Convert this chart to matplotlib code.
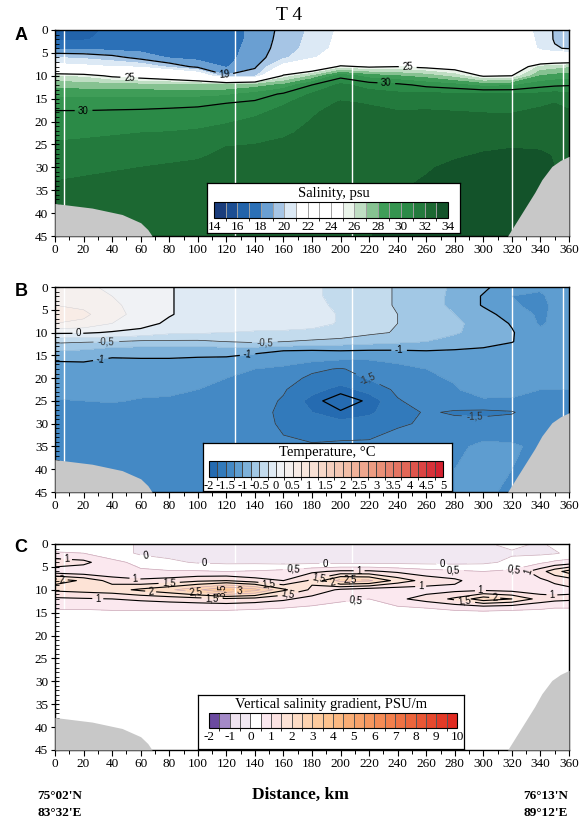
import numpy as np
import matplotlib
matplotlib.use("Agg")
import matplotlib.pyplot as plt
from matplotlib.colors import ListedColormap, BoundaryNorm, LinearSegmentedColormap
from matplotlib.ticker import MultipleLocator
import matplotlib.colorbar as mcolorbar

plt.rcParams['font.family'] = ['Liberation Serif', 'DejaVu Serif']
plt.rcParams['contour.negative_linestyle'] = 'solid'

# ---------------- data ----------------
distance_km = [0, 20, 40, 60, 80, 100, 120, 140, 160, 180, 200, 220, 240, 260, 280, 300, 320, 340, 350, 360]
depth_m = [0, 2, 4, 6, 8, 10, 12, 14, 16, 18, 20, 22.5, 25, 27.5, 30, 35, 40, 45]
station_km = [6, 126, 208, 320, 356]

bathy_left_km = [0, 26, 47, 60, 65, 68]
bathy_left_m = [37.9, 38.9, 40.3, 42.1, 43.6, 45]
bathy_right_km = [317, 323, 330, 336, 341, 348, 354, 360]
bathy_right_m = [45, 42, 38.5, 35.5, 32.7, 29.8, 28.5, 27.6]

# salinity (psu), one list per distance column, values down the depth rows
salinity_by_column = [
    [16.7, 16.9, 17.8, 20.0, 21.5, 26.0, 27.6, 28.6, 29.6, 30.1, 30.4, 30.75, 31.1, 31.4, 31.7, 32.2, 32.5, 32.7],
    [16.7, 16.9, 17.8, 19.8, 21.3, 25.7, 27.5, 28.6, 29.6, 30.1, 30.4, 30.8, 31.2, 31.5, 31.8, 32.3, 32.6, 32.8],
    [17.2, 17.3, 17.6, 19.4, 21.0, 24.7, 27.4, 28.6, 29.6, 30.15, 30.5, 30.9, 31.3, 31.6, 31.9, 32.4, 32.7, 32.8],
    [17.3, 17.4, 17.6, 18.6, 20.8, 24.2, 27.3, 28.6, 29.6, 30.2, 30.55, 31.0, 31.4, 31.7, 32.0, 32.5, 32.7, 32.8],
    [17.4, 17.5, 17.6, 17.9, 19.7, 23.5, 27.2, 28.6, 29.7, 30.25, 30.6, 31.05, 31.5, 31.8, 32.1, 32.6, 32.8, 32.9],
    [17.4, 17.5, 17.6, 17.7, 18.7, 22.5, 27.0, 28.6, 29.8, 30.3, 30.7, 31.15, 31.6, 31.9, 32.2, 32.6, 32.8, 32.9],
    [17.5, 17.5, 17.6, 17.7, 17.9, 19.1, 27.0, 28.8, 30.0, 30.5, 30.9, 31.4, 31.95, 32.2, 32.4, 32.7, 32.8, 32.9],
    [18.3, 18.3, 18.4, 18.5, 18.85, 19.6, 27.5, 29.3, 30.3, 30.8, 31.2, 31.6, 32.0, 32.3, 32.5, 32.7, 32.8, 32.9],
    [19.3, 19.4, 19.5, 19.8, 21.5, 25.3, 28.2, 30.2, 30.9, 31.3, 31.6, 31.85, 32.2, 32.4, 32.6, 32.8, 32.9, 32.9],
    [20.2, 20.3, 20.4, 20.8, 23.0, 27.0, 30.0, 31.1, 31.6, 31.9, 32.05, 32.25, 32.4, 32.55, 32.7, 32.85, 32.95, 32.97],
    [21.2, 21.3, 21.4, 22.0, 25.3, 29.6, 31.2, 31.7, 32.1, 32.3, 32.5, 32.6, 32.7, 32.8, 32.85, 32.92, 32.95, 32.97],
    [22.0, 22.2, 22.4, 23.0, 24.8, 28.5, 30.6, 31.4, 31.95, 32.2, 32.4, 32.55, 32.65, 32.75, 32.85, 32.95, 32.97, 32.98],
    [22.5, 22.6, 22.8, 23.4, 25.0, 28.0, 30.3, 31.2, 31.8, 32.05, 32.3, 32.45, 32.6, 32.75, 32.85, 32.97, 33.05, 33.15],
    [22.5, 22.6, 22.8, 23.3, 24.6, 27.5, 29.7, 31.2, 31.75, 32.1, 32.4, 32.55, 32.7, 32.85, 32.95, 33.1, 33.2, 33.3],
    [22.5, 22.6, 22.8, 23.2, 24.2, 26.5, 29.3, 31.2, 31.65, 32.05, 32.4, 32.6, 32.8, 32.95, 33.1, 33.25, 33.3, 33.3],
    [22.4, 22.5, 22.6, 23.0, 23.6, 24.8, 28.6, 31.2, 31.6, 31.98, 32.3, 32.6, 32.9, 33.05, 33.2, 33.3, 33.35, 33.35],
    [22.0, 22.1, 22.3, 22.7, 23.4, 25.0, 28.8, 31.1, 31.6, 31.97, 32.3, 32.65, 32.95, 33.1, 33.2, 33.3, 33.3, 33.3],
    [20.6, 20.7, 20.8, 22.0, 26.2, 28.0, 29.6, 31.2, 31.85, 32.2, 32.5, 32.75, 32.95, 33.05, 33.1, 33.1, 33.1, 33.1],
    [19.9, 19.9, 20.1, 22.5, 26.5, 28.3, 29.8, 31.4, 32.0, 32.25, 32.45, 32.7, 32.9, 32.98, 33.0, 33.0, 33.0, 33.0],
    [19.7, 19.7, 19.9, 22.5, 26.8, 28.5, 29.9, 31.2, 31.8, 32.1, 32.3, 32.55, 32.8, 32.95, 33.0, 33.0, 33.0, 33.0],
]

# temperature (deg C), one list per distance column
temperature_by_column = [
    [0.35, 0.40, 0.50, 0.60, 0.50, 0.05, -0.45, -0.75, -0.98, -1.10, -1.15, -1.20, -1.26, -1.30, -1.33, -1.35, -1.35, -1.35],
    [0.30, 0.35, 0.45, 0.55, 0.45, 0.04, -0.48, -0.78, -0.97, -1.10, -1.15, -1.20, -1.25, -1.30, -1.33, -1.36, -1.37, -1.37],
    [0.20, 0.25, 0.30, 0.35, 0.25, -0.03, -0.50, -0.90, -1.03, -1.10, -1.15, -1.20, -1.24, -1.30, -1.35, -1.38, -1.40, -1.40],
    [0.10, 0.12, 0.15, 0.15, 0.10, -0.08, -0.55, -0.90, -1.02, -1.12, -1.17, -1.22, -1.26, -1.30, -1.35, -1.40, -1.42, -1.42],
    [0.02, 0.02, 0.02, 0.02, -0.05, -0.20, -0.55, -0.90, -1.02, -1.12, -1.17, -1.22, -1.27, -1.32, -1.37, -1.42, -1.44, -1.44],
    [-0.10, -0.10, -0.10, -0.10, -0.12, -0.22, -0.55, -0.95, -1.02, -1.15, -1.20, -1.25, -1.30, -1.35, -1.40, -1.44, -1.45, -1.45],
    [-0.12, -0.12, -0.12, -0.12, -0.15, -0.25, -0.50, -0.90, -1.05, -1.20, -1.25, -1.30, -1.35, -1.40, -1.43, -1.45, -1.46, -1.46],
    [-0.15, -0.15, -0.14, -0.14, -0.16, -0.27, -0.45, -0.95, -1.10, -1.25, -1.32, -1.40, -1.42, -1.45, -1.45, -1.46, -1.46, -1.46],
    [-0.20, -0.20, -0.19, -0.18, -0.19, -0.27, -0.50, -1.00, -1.15, -1.30, -1.40, -1.48, -1.52, -1.53, -1.52, -1.48, -1.46, -1.46],
    [-0.22, -0.22, -0.21, -0.20, -0.21, -0.28, -0.55, -1.02, -1.20, -1.45, -1.55, -1.65, -1.85, -1.75, -1.60, -1.48, -1.46, -1.46],
    [-0.30, -0.30, -0.28, -0.26, -0.26, -0.32, -0.60, -1.00, -1.25, -1.52, -1.60, -1.85, -2.25, -1.95, -1.65, -1.45, -1.46, -1.46],
    [-0.42, -0.42, -0.42, -0.40, -0.40, -0.45, -0.65, -1.02, -1.25, -1.40, -1.48, -1.65, -1.92, -1.80, -1.62, -1.45, -1.45, -1.45],
    [-0.52, -0.52, -0.52, -0.50, -0.50, -0.52, -0.70, -1.02, -1.20, -1.32, -1.40, -1.45, -1.52, -1.58, -1.52, -1.42, -1.42, -1.42],
    [-0.62, -0.62, -0.62, -0.60, -0.58, -0.60, -0.75, -1.00, -1.15, -1.25, -1.30, -1.35, -1.40, -1.48, -1.48, -1.38, -1.35, -1.35],
    [-0.80, -0.82, -0.82, -0.75, -0.70, -0.72, -0.85, -1.02, -1.15, -1.20, -1.22, -1.28, -1.40, -1.52, -1.45, -1.30, -1.25, -1.25],
    [-0.95, -1.02, -1.02, -0.92, -0.85, -0.85, -0.90, -1.05, -1.12, -1.15, -1.18, -1.10, -1.30, -1.55, -1.42, -1.20, -1.15, -1.20],
    [-1.15, -1.25, -1.22, -1.10, -1.02, -0.98, -0.99, -1.10, -1.15, -1.18, -1.20, -1.12, -1.30, -1.52, -1.40, -1.22, -1.25, -1.30],
    [-1.20, -1.30, -1.32, -1.30, -1.28, -1.20, -1.15, -1.15, -1.18, -1.20, -1.22, -1.25, -1.30, -1.35, -1.35, -1.30, -1.30, -1.30],
    [-1.10, -1.15, -1.20, -1.20, -1.20, -1.15, -1.12, -1.12, -1.15, -1.20, -1.22, -1.25, -1.28, -1.30, -1.30, -1.30, -1.30, -1.30],
    [-1.05, -1.10, -1.12, -1.15, -1.15, -1.12, -1.10, -1.10, -1.15, -1.20, -1.22, -1.25, -1.28, -1.30, -1.30, -1.30, -1.30, -1.30],
]

# vertical salinity gradient (PSU/m), one list per depth row, values across distance
gradient_by_depth = [
    [0.2, 0.2, 0.15, -0.05, -0.1, -0.1, -0.1, -0.05, -0.1, -0.1, -0.1, -0.1, -0.1, -0.1, -0.1, -0.05, 0.1, -0.05, 0.1, 0.2],
    [0.55, 0.5, 0.3, -0.1, -0.15, -0.15, -0.15, -0.1, -0.15, -0.15, -0.15, -0.15, -0.15, -0.15, -0.15, -0.1, -0.05, -0.1, -0.05, 0.1],
    [1.3, 1.15, 0.6, 0.4, 0.1, -0.05, -0.1, -0.1, -0.15, -0.15, -0.15, -0.15, -0.15, -0.15, -0.15, -0.1, 0.1, 0.4, 0.6, 0.7],
    [0.7, 0.6, 0.55, 0.55, 0.55, 0.55, 0.5, 0.55, 0.65, 0.9, 1.1, 1.1, 0.9, 0.7, 0.6, 0.5, 0.6, 1.3, 1.8, 2.2],
    [2.3, 1.9, 1.3, 1.1, 1.2, 1.4, 1.5, 1.2, 1.0, 1.6, 2.7, 2.6, 1.8, 1.3, 1.1, 0.7, 0.6, 0.9, 1.1, 1.2],
    [1.6, 1.7, 1.8, 2.1, 2.4, 2.9, 3.6, 3.2, 2.1, 1.4, 0.9, 0.7, 0.7, 0.8, 0.85, 0.9, 0.8, 0.7, 0.8, 0.9],
    [0.9, 0.95, 1.0, 1.1, 1.2, 1.3, 1.4, 1.3, 1.1, 0.8, 0.6, 0.5, 0.9, 1.2, 1.6, 2.3, 2.0, 1.3, 1.15, 1.1],
    [0.55, 0.55, 0.6, 0.6, 0.6, 0.6, 0.6, 0.55, 0.5, 0.4, 0.3, 0.3, 0.4, 0.5, 0.6, 0.65, 0.6, 0.55, 0.5, 0.5],
    [0.2] * 20, [0.2] * 20, [0.2] * 20, [0.2] * 20, [0.2] * 20,
    [0.2] * 20, [0.2] * 20, [0.2] * 20, [0.2] * 20, [0.2] * 20,
]

sal_levels = list(range(14, 35))
sal_colors = ['#1a3d7c', '#1c4e93', '#2263aa', '#2b70b7', '#6a9fd2', '#a6c5e5', '#dce9f5',
              '#ffffff', '#ffffff', '#ffffff', '#ffffff', '#eaf4ea', '#bfdec3', '#86c291',
              '#3f9d58', '#34944f', '#2b8a47', '#237a3d', '#1c6832', '#13532a']
sal_ticks = [14, 16, 18, 20, 22, 24, 26, 28, 30, 32, 34]

temp_levels = [-2 + 0.25 * i for i in range(29)]
temp_anchor_values = [-2.0, -1.5, -1.0, -0.5, 0.0, 0.5, 1.0, 2.0, 3.0, 4.0, 5.0]
temp_anchor_colors = ['#1f65ac', '#3a82c1', '#6aa6d5', '#b5d3ea', '#eef3f8', '#f8efea',
                      '#f8e4da', '#f3c3ad', '#eb977d', '#e16052', '#d2192b']
temp_ticks = [-2, -1.5, -1, -0.5, 0, 0.5, 1, 1.5, 2, 2.5, 3, 3.5, 4, 4.5, 5]

grad_levels = [-2 + 0.5 * i for i in range(25)]
grad_colors = ['#6b4aa0', '#a48ac8', '#efe3f0', '#f1e8f2', '#ffffff', '#fbe8ef', '#fbe2e2',
               '#fde3d6', '#fddcc5', '#fdd3b0', '#fdcb9e', '#fdc38f', '#fbb982', '#f9ad75',
               '#f8a26a', '#f6975f', '#f48b55', '#f27f4c', '#ef7244', '#ec653c', '#e95735',
               '#e6492e', '#e33a27', '#e02b21']
grad_ticks = [-2, -1, 0, 1, 2, 3, 4, 5, 6, 7, 8, 9, 10]

# ---------------- figure ----------------
W, H = 579, 821
fig = plt.figure(figsize=(W / 100, H / 100), dpi=100)


def fax(l, t, r, b):
    return fig.add_axes([l / W, 1 - b / H, (r - l) / W, (b - t) / H])


X, Y = np.meshgrid(np.array(distance_km, float), np.array(depth_m, float))
S = np.array(salinity_by_column).T
T = np.array(temperature_by_column).T
G = np.array(gradient_by_depth)


def comma(v):
    return f"{v:g}".replace('.', ',')


def style_axes(ax):
    ax.set_xlim(0, 360)
    ax.set_ylim(45, 0)
    ax.set_xticks(range(0, 361, 20))
    ax.set_yticks(range(0, 46, 5))
    ax.xaxis.set_minor_locator(MultipleLocator(10))
    ax.yaxis.set_minor_locator(MultipleLocator(1))
    ax.tick_params(axis='x', which='major', direction='out', length=4, width=0.8, labelsize=9.5, pad=2)
    ax.tick_params(axis='x', which='minor', direction='out', length=3, width=0.7)
    ax.tick_params(axis='y', which='major', direction='inout', length=6, width=0.8, labelsize=9.5, pad=2)
    ax.tick_params(axis='y', which='minor', direction='in', length=3, width=0.6)
    for s in ax.spines.values():
        s.set_linewidth(1.0)
    for x in station_km:
        ax.plot([x, x], [0, 45], color='white', lw=1.0, zorder=1.5)
    ax.fill_between(bathy_left_km, bathy_left_m, 45, color='#c8c8c8', lw=0, zorder=4)
    ax.fill_between(bathy_right_km, bathy_right_m, 45, color='#c8c8c8', lw=0, zorder=4)


def set_label_font(labels, size=7):
    for t in labels:
        t.set_fontfamily(['Liberation Sans', 'DejaVu Sans'])
        t.set_fontsize(size)


def legend_box(l, t, r, b, title, title_y, cl, ct, cr, cb_, levels, colors, ticks, edgecolor, tsize):
    bax = fax(l, t, r, b)
    bax.set_xticks([])
    bax.set_yticks([])
    bax.set_facecolor('white')
    for s in bax.spines.values():
        s.set_linewidth(0.9)
    fig.text((l + r) / 2 / W, 1 - title_y / H, title, ha='center', va='center', fontsize=10.5)
    cax = fax(cl, ct, cr, cb_)
    cmap = ListedColormap(colors)
    norm = BoundaryNorm(levels, len(colors))
    cb = mcolorbar.ColorbarBase(cax, cmap=cmap, norm=norm, boundaries=levels,
                                orientation='horizontal', ticks=ticks, drawedges=True)
    cb.dividers.set_color(edgecolor)
    cb.dividers.set_linewidth(0.7)
    cb.outline.set_linewidth(0.8)
    cax.set_xticklabels([f"{v:g}" for v in ticks])
    cax.tick_params(length=0, labelsize=tsize, pad=2)
    return cb


# ---------------- Panel A: salinity ----------------
axA = fax(55, 30, 569, 236)
axA.contourf(X, Y, np.clip(S, 14.001, 33.999), levels=sal_levels, colors=sal_colors, zorder=1)
csA = axA.contour(X, Y, S, levels=[19, 25, 30], colors='black', linewidths=0.9, zorder=2)
labA = axA.clabel(csA, manual=[(119, 9.3), (52, 10.7), (247, 8.4), (20, 17.3), (232, 12)],
                  inline=True, inline_spacing=2, fmt=comma)
set_label_font(labA)
S_right = np.ma.masked_where(X < 340, S)
axA.contour(X, Y, S_right, levels=[20], colors='black', linewidths=0.9, zorder=2)
csA2 = axA.contour(X, Y, S, levels=[18, 20, 31, 32], colors='none', linewidths=0, zorder=2)
labA2 = axA.clabel(csA2, manual=[(20, 3.5), (148, 7.5), (112, 20.3), (284, 14.2), (151, 23.3), (306, 17.9)],
                   inline=False, fmt=comma)
set_label_font(labA2)
style_axes(axA)

# ---------------- Panel B: temperature ----------------
pos = [(v + 2) / 7 for v in temp_anchor_values]
tcmap = LinearSegmentedColormap.from_list('temp', list(zip(pos, temp_anchor_colors)))
temp_colors = [tcmap(((temp_levels[i] + temp_levels[i + 1]) / 2 + 2) / 7) for i in range(len(temp_levels) - 1)]
axB = fax(55, 287, 569, 492)
axB.contourf(X, Y, np.clip(T, -1.999, 4.999), levels=temp_levels, colors=temp_colors, zorder=1)
axB.contour(X, Y, T, levels=temp_levels, colors='#5580a8', linewidths=0.25, alpha=0.35, zorder=1.6)
csB = axB.contour(X, Y, T, levels=[-2, -1, 0], colors='black', linewidths=0.9, zorder=2)
labB = axB.clabel(csB, manual=[(16, 10.3), (32, 15.8), (135, 15.1), (241, 14.1)],
                  inline=True, inline_spacing=2, fmt=comma)
set_label_font(labB)
csB2 = axB.contour(X, Y, T, levels=[-1.5, -0.5], colors='#333333', linewidths=0.5, zorder=2)
labB2 = axB.clabel(csB2, manual=[(36, 12.6), (147, 12.5), (219, 20.3), (294, 27.9)],
                   inline=True, inline_spacing=2, fmt=comma)
set_label_font(labB2)
style_axes(axB)

# ---------------- Panel C: vertical salinity gradient ----------------
axC = fax(55, 544, 569, 750)
axC.contourf(X, Y, np.clip(G, -1.999, 9.999), levels=grad_levels, colors=grad_colors, zorder=1)
csC2 = axC.contour(X, Y, G, levels=[0, 0.5, 2.5, 3, 3.5], colors='#c9a9b8', linewidths=0.5, zorder=1.8)
labC2 = axC.clabel(csC2, manual=[(63, 3.8), (167, 6.0), (279, 6.1), (324, 9.4), (211, 12.4),
                                 (99, 10), (207, 7.8), (117, 10), (129, 10.3),
                                 (105, 2), (189, 2.4), (271, 2)],
                   inline=True, inline_spacing=2, fmt=comma, colors='black')
set_label_font(labC2)
csC = axC.contour(X, Y, G, levels=[1, 1.5, 2], colors='black', linewidths=0.8, zorder=2)
labC = axC.clabel(csC, manual=[(8, 3.8), (56, 7.6), (150, 8.2), (213, 5.9), (30, 11.4),
                               (298, 10.3), (348, 11.2), (330, 7.1),
                               (80, 8.7), (110, 12.0), (185, 7.6), (256, 8.5), (287, 12.1),
                               (5, 8), (67, 10.4), (163, 10.6), (194, 8.7), (308, 11.6)],
                  inline=True, inline_spacing=2, fmt=comma)
set_label_font(labC)
style_axes(axC)

# ---------------- legends ----------------
legend_box(207, 183, 460, 233, 'Salinity, psu', 193, 214, 202, 448, 218,
           sal_levels, sal_colors, sal_ticks, '#a0a0a0', 9.5)
legend_box(203, 443, 452, 491, 'Temperature, \u00b0C', 452, 209, 461, 443, 477,
           temp_levels, temp_colors, temp_ticks, '#444444', 9)
legend_box(198, 695, 464, 749, 'Vertical salinity gradient, PSU/m', 704, 209, 713, 457, 728,
           grad_levels, grad_colors, grad_ticks, '#555555', 9.5)

# ---------------- texts ----------------
fig.text(289 / W, 1 - 15 / H, 'T 4', ha='center', va='center', fontsize=14)
for lab, y in [('A', 35), ('B', 291), ('C', 548)]:
    fig.text(21 / W, 1 - y / H, lab, ha='center', va='center', fontsize=13, fontweight='bold',
             family=['Liberation Sans', 'DejaVu Sans'])
fig.text(300 / W, 1 - 795 / H, 'Distance, km', ha='center', va='center', fontsize=12.5, fontweight='bold')
fig.text(60 / W, 1 - 796 / H, "75\u00b002'N", ha='center', va='center', fontsize=9.5, fontweight='bold')
fig.text(60 / W, 1 - 813 / H, "83\u00b032'E", ha='center', va='center', fontsize=9.5, fontweight='bold')
fig.text(546 / W, 1 - 796 / H, "76\u00b013'N", ha='center', va='center', fontsize=9.5, fontweight='bold')
fig.text(546 / W, 1 - 813 / H, "89\u00b012'E", ha='center', va='center', fontsize=9.5, fontweight='bold')

fig.savefig('out.png', dpi=100)
